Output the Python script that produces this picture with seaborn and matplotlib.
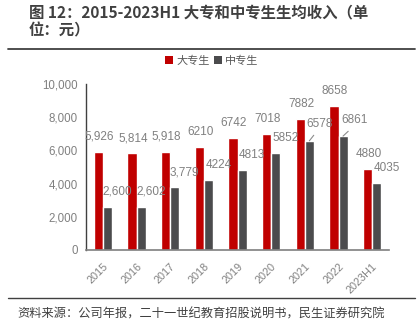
import matplotlib
matplotlib.use("Agg")
import matplotlib.pyplot as plt
import seaborn as sns
import pandas as pd
from matplotlib.lines import Line2D
from matplotlib.patches import Patch

years = ["2015", "2016", "2017", "2018", "2019", "2020", "2021", "2022", "2023H1"]
dazhuan = [5926, 5814, 5918, 6210, 6742, 7018, 7882, 8658, 4880]
zhongzhuan = [2600, 2602, 3779, 4224, 4813, 5852, 6578, 6861, 4035]
dz_labels = ["5,926", "5,814", "5,918", "6210", "6742", "7018", "7882", "8658", "4880"]
zz_labels = ["2,600", "2,602", "3,779", "4224", "4813", "5852", "6578", "6861", "4035"]
series_names = ["大专生", "中专生"]
yticks = [0, 2000, 4000, 6000, 8000, 10000]

RED = "#C00000"
GRAY = "#4B4B4D"
TXT = "#808080"

sns.set_style("white")
plt.rcParams['font.family'] = ['Liberation Sans', 'Noto Sans CJK SC', 'DejaVu Sans']

df = pd.DataFrame({
    "year": years * 2,
    "value": dazhuan + zhongzhuan,
    "series": [series_names[0]] * len(years) + [series_names[1]] * len(years),
})

fig = plt.figure(figsize=(4.19, 3.34), dpi=100)
ax = fig.add_axes([86 / 419, 1 - 250 / 334, (389 - 86) / 419, (250 - 84) / 334])

sns.barplot(data=df, x="year", y="value", hue="series", order=years,
            hue_order=series_names, palette=[RED, GRAY], width=0.54,
            saturation=1, legend=False, ax=ax)

ax.set_ylim(0, 10000)
ax.set_xlim(-0.5, len(years) - 0.5)
ax.set_yticks(yticks)
ax.set_yticklabels([f"{v:,}" for v in yticks], color=TXT, fontsize=8.3)
ax.set_xticks(range(len(years)))
ax.set_xticklabels(years, rotation=45, ha="right", rotation_mode="anchor",
                   color=TXT, fontsize=7.8)
ax.tick_params(axis="y", length=0, pad=6)
ax.tick_params(axis="x", length=0, pad=8)
ax.set_xlabel("")
ax.set_ylabel("")
for s in ["top", "right"]:
    ax.spines[s].set_visible(False)
ax.spines["left"].set_color("#404040")
ax.spines["left"].set_linewidth(1.0)
ax.spines["bottom"].set_color("#7f7f7f")
ax.spines["bottom"].set_linewidth(1.2)

# data labels
red_bars = ax.containers[0]
gray_bars = ax.containers[1]
for bar, lab in zip(red_bars, dz_labels):
    x = bar.get_x() + bar.get_width() / 2
    ax.annotate(lab, (x, bar.get_height()), xytext=(1, 15), textcoords="offset pixels",
                ha="center", va="center", color=TXT, fontsize=8.5)
gray_offsets = {"2021": (10, 17), "2022": (12, 16)}
for i, (bar, lab) in enumerate(zip(gray_bars, zz_labels)):
    x = bar.get_x() + bar.get_width() / 2
    if years[i] in gray_offsets:
        ax.annotate(lab, (x, bar.get_height()), xytext=gray_offsets[years[i]],
                    textcoords="offset pixels",
                    ha="center", va="center", color=TXT, fontsize=8.5,
                    arrowprops=dict(arrowstyle="-", color="#8c8c8c", lw=0.8,
                                    relpos=(0.45, 0.0), shrinkA=2, shrinkB=0))
    else:
        ax.annotate(lab, (x, bar.get_height()), xytext=(10, 15), textcoords="offset pixels",
                    ha="center", va="center", color=TXT, fontsize=8.5)

# legend
handles = [Patch(facecolor=RED, edgecolor="none"), Patch(facecolor=GRAY, edgecolor="none")]
fig.legend(handles, series_names, loc="center", bbox_to_anchor=(212 / 419, 1 - 61 / 334),
           ncol=2, frameon=False, fontsize=8, handlelength=0.7, handleheight=0.7,
           handletextpad=0.3, columnspacing=0.4, labelcolor="#595959")

# title
fig.text(29 / 419, 1 - 21 / 334, "图 12：2015-2023H1 大专和中专生生均收入（单\n位：元）",
         ha="left", va="center", fontsize=11.1, fontweight="bold", color="#404040",
         family=['Noto Sans CJK SC', 'DejaVu Sans'], linespacing=1.15)
fig.add_artist(Line2D([8 / 419, 415 / 419], [1 - 49 / 334, 1 - 49 / 334],
                      color="#404040", lw=1.3))
fig.add_artist(Line2D([8 / 419, 415 / 419], [1 - 298 / 334, 1 - 298 / 334],
                      color="#404040", lw=1.0))
fig.text(17 / 419, 1 - 314 / 334, "资料来源：公司年报，二十一世纪教育招股说明书，民生证券研究院",
         ha="left", va="center", fontsize=8.8, color="#404040",
         family=['Noto Sans CJK SC', 'DejaVu Sans'])

fig.savefig("out.png", dpi=100)
